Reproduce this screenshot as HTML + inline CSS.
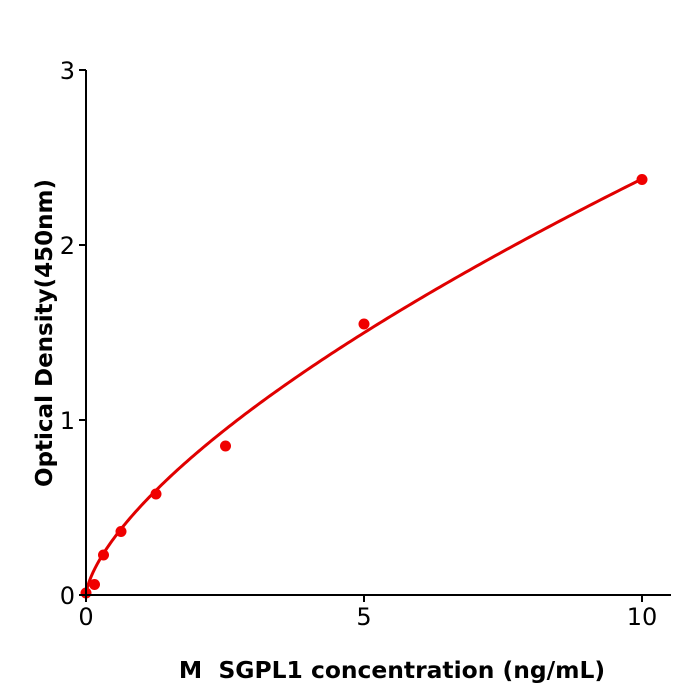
<!DOCTYPE html>
<html><head><style>body{margin:0;background:#fff}svg{display:block}</style></head><body>
<svg id="s" width="700" height="700" xmlns="http://www.w3.org/2000/svg" font-family="DejaVu Sans, Liberation Sans, sans-serif">
<rect width="700" height="700" fill="#fff"/>
<path id="c" fill="none" stroke="#e00000" stroke-width="3"/>
<g fill="#f00000">
<circle cx="86" cy="593" r="5.5"/><circle cx="94.5" cy="584.5" r="5.5"/><circle cx="103.5" cy="555" r="5.5"/>
<circle cx="121" cy="531.5" r="5.5"/><circle cx="156" cy="494" r="5.5"/><circle cx="225.5" cy="446" r="5.5"/>
<circle cx="364" cy="324" r="5.5"/><circle cx="642" cy="179.5" r="5.5"/>
</g>
<g stroke="#000" stroke-width="2">
<line x1="86" y1="70" x2="86" y2="596"/><line x1="85" y1="595" x2="671" y2="595"/>
<line x1="79" y1="70" x2="86" y2="70"/><line x1="79" y1="245" x2="86" y2="245"/><line x1="79" y1="420" x2="86" y2="420"/><line x1="79" y1="595" x2="86" y2="595"/>
<line x1="86" y1="595" x2="86" y2="602"/><line x1="364" y1="595" x2="364" y2="602"/><line x1="642" y1="595" x2="642" y2="602"/>
</g>
<g font-size="24" fill="#000">
<text x="75" y="79" text-anchor="end">3</text><text x="75" y="254" text-anchor="end">2</text>
<text x="75" y="429" text-anchor="end">1</text><text x="75" y="604" text-anchor="end">0</text>
<text x="86" y="625" text-anchor="middle">0</text><text x="364" y="625" text-anchor="middle">5</text><text x="642" y="625" text-anchor="middle">10</text>
</g>
<text x="392" y="678" font-size="23.4" font-weight="bold" text-anchor="middle">M&#160; SGPL1 concentration (ng/mL)</text>
<text transform="translate(52,333) rotate(-90)" font-size="23" font-weight="bold" text-anchor="middle">Optical Density(450nm)</text>
</svg>
<script>
var d="";for(var i=0;i<=200;i++){var x=10*Math.pow(i/200,1.5);var y=0.513*Math.pow(x,0.666);d+=(i?"L":"M")+(86+55.6*x).toFixed(2)+","+(595-175*y).toFixed(2);}
document.getElementById("c").setAttribute("d",d);
</script>
</body></html>
